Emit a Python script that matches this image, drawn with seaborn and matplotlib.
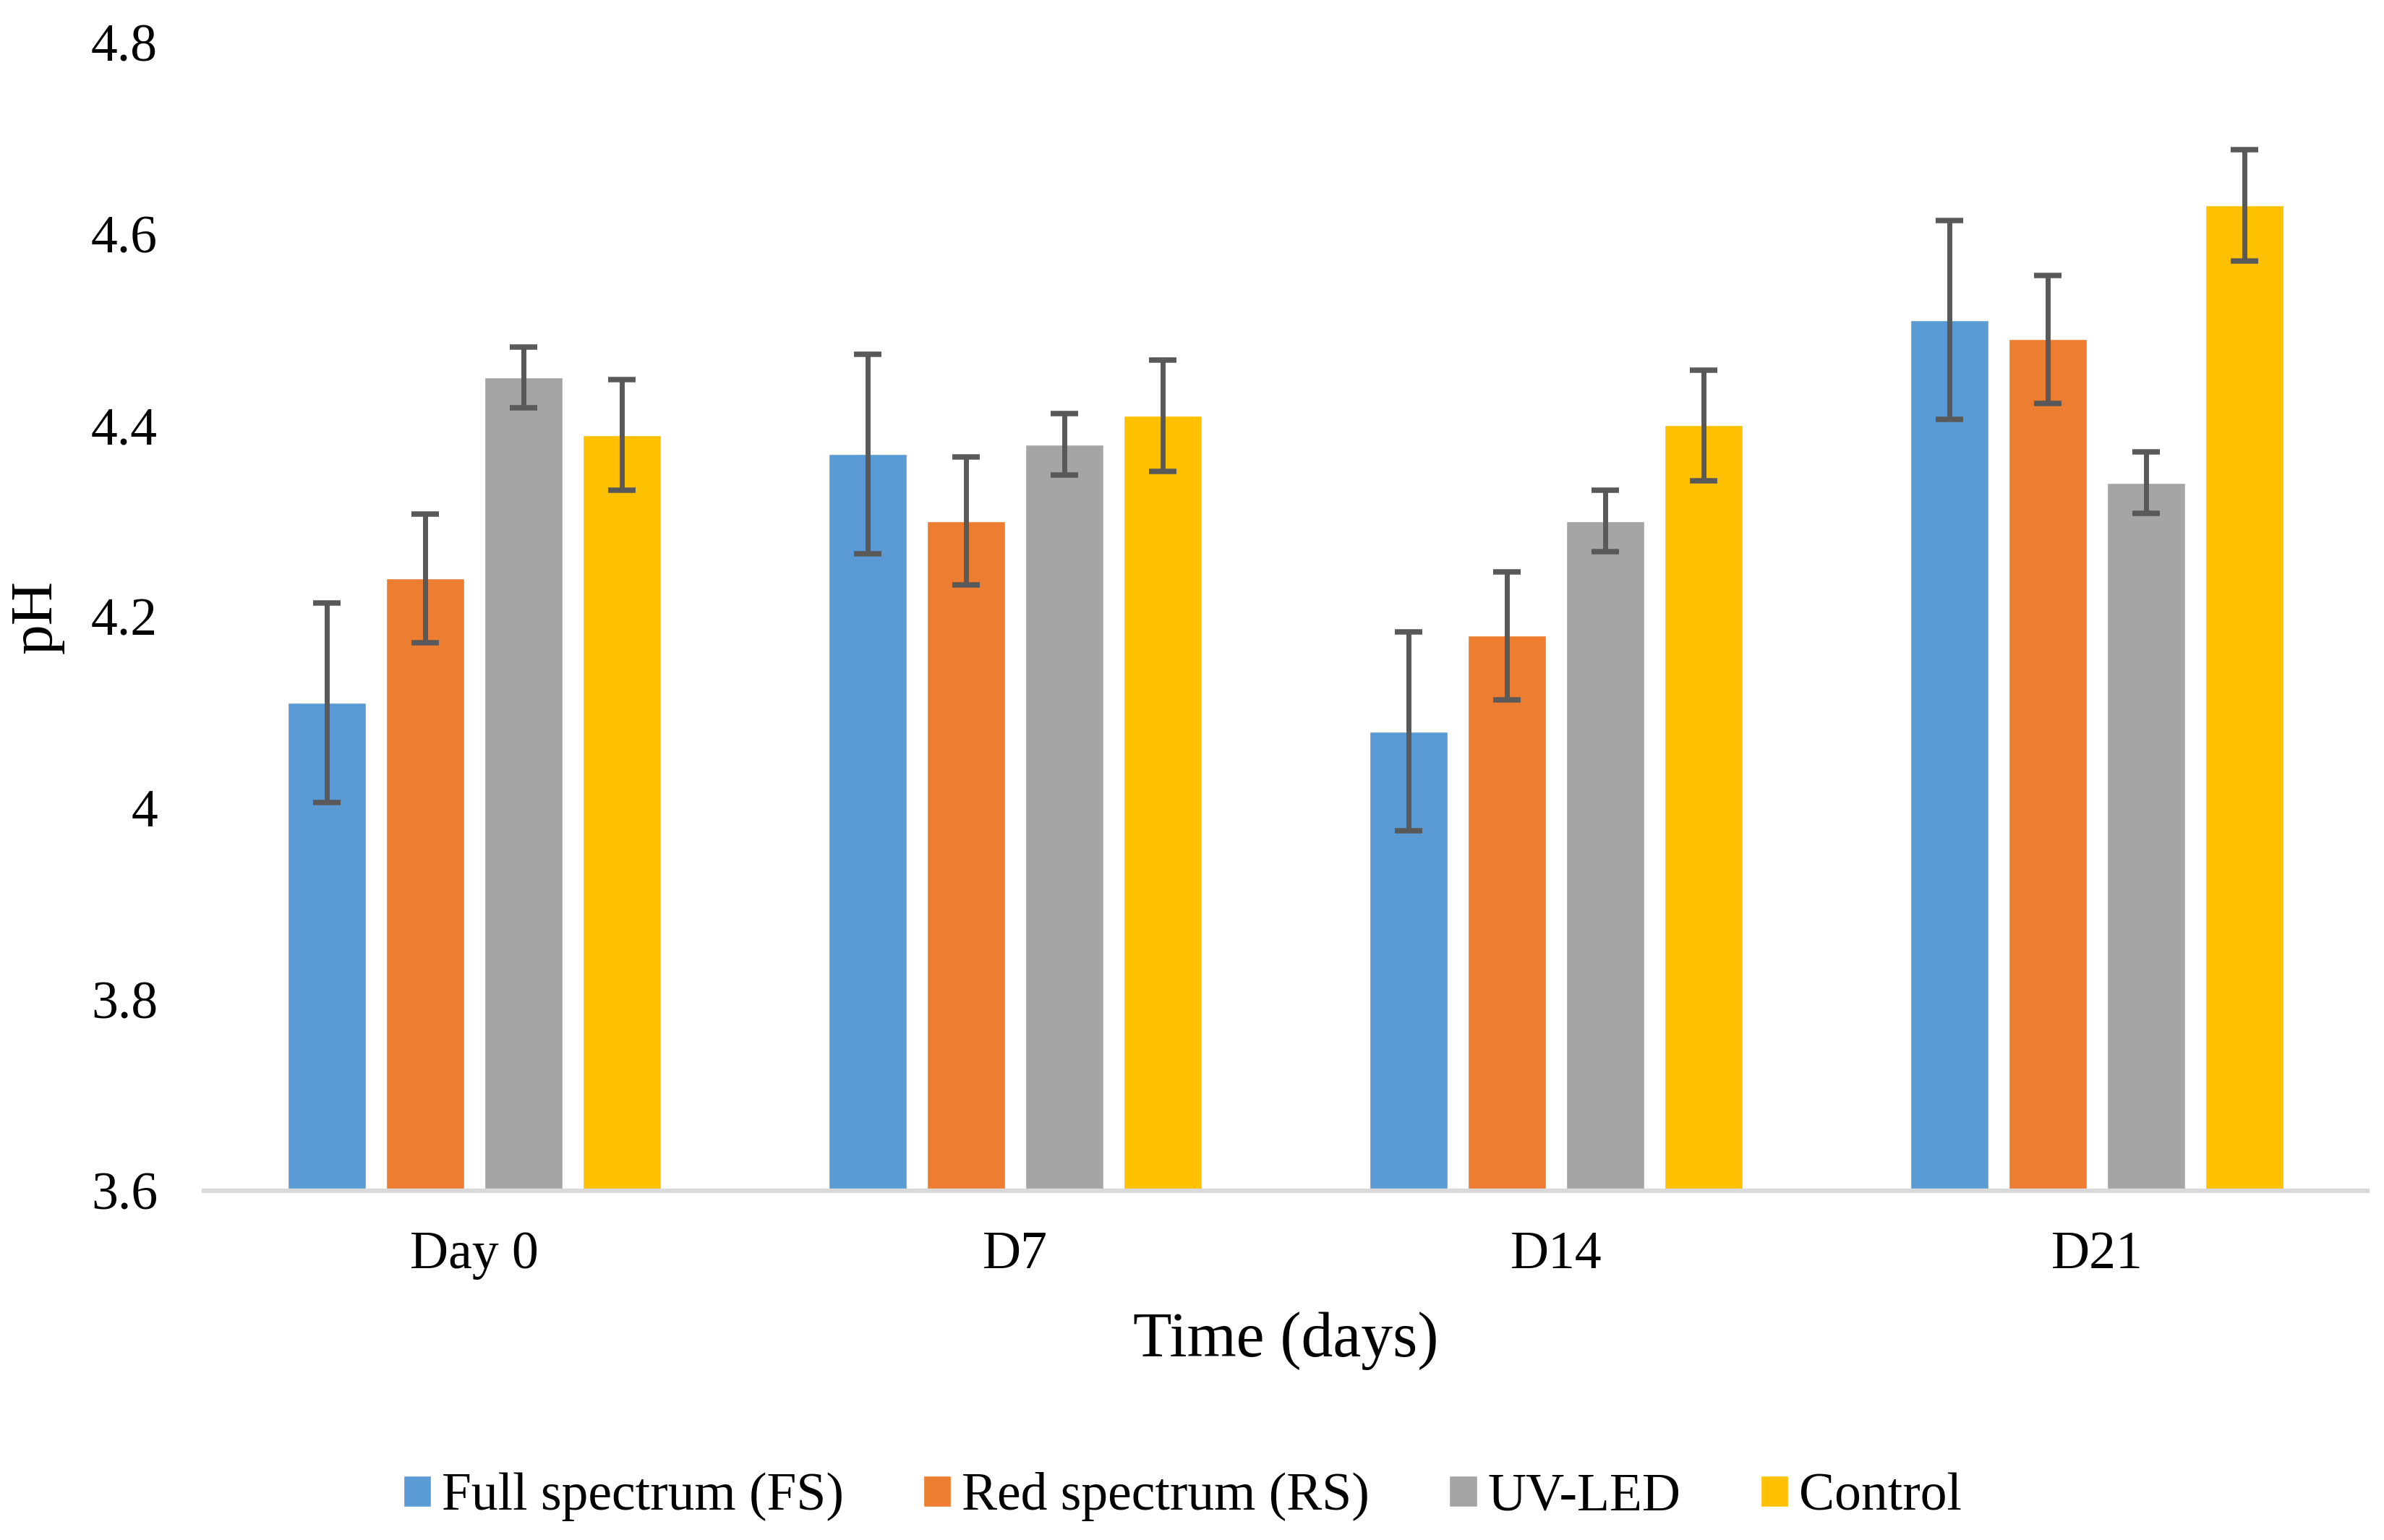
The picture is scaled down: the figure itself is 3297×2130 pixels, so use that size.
import matplotlib
matplotlib.use("Agg")
import matplotlib.pyplot as plt
import seaborn as sns
import pandas as pd
from matplotlib.ticker import FuncFormatter, MultipleLocator

days = ["Day 0", "D7", "D14", "D21"]
treatments = ["Full spectrum (FS)", "Red spectrum (RS)", "UV-LED", "Control"]
fs_vals = [4.11, 4.37, 4.08, 4.51]
rs_vals = [4.24, 4.30, 4.18, 4.49]
uv_vals = [4.45, 4.38, 4.30, 4.34]
ctrl_vals = [4.39, 4.41, 4.40, 4.63]
fs_err = [0.104, 0.104, 0.104, 0.104]
rs_err = [0.067, 0.067, 0.067, 0.067]
uv_err = [0.032, 0.032, 0.032, 0.032]
ctrl_err = [0.058, 0.058, 0.058, 0.058]
colors = ["#5B9BD5", "#ED7D31", "#A5A5A5", "#FFC000"]

values = [fs_vals, rs_vals, uv_vals, ctrl_vals]
errors = [fs_err, rs_err, uv_err, ctrl_err]
rows = []
for t, vals in zip(treatments, values):
    for d, v in zip(days, vals):
        rows.append({"Time": d, "Treatment": t, "pH": v})
df = pd.DataFrame(rows)

sns.set_theme(style="white")
plt.rcParams["font.family"] = ["Liberation Serif", "DejaVu Serif"]
plt.rcParams["text.color"] = "black"
plt.rcParams["axes.labelcolor"] = "black"

fig = plt.figure(figsize=(32.97, 21.30), dpi=100)
ax = fig.add_axes([0.0855, 0.2268, 0.9075, 0.7455])

sns.barplot(data=df, x="Time", y="pH", hue="Treatment", order=days,
            hue_order=treatments, palette=colors, width=0.727, gap=0.21,
            errorbar=None, saturation=1, ax=ax, legend=True)

for cont, errs in zip(ax.containers, errors):
    xs = [p.get_x() + p.get_width() / 2 for p in cont.patches]
    hs = [p.get_height() + p.get_y() for p in cont.patches]
    ax.errorbar(xs, hs, yerr=errs, fmt="none", ecolor="#595959",
                elinewidth=5.0, capsize=13.5, capthick=5.4, zorder=5)

ax.set_ylim(3.6, 4.8)
ax.set_xlim(-0.5, 3.5)
ax.yaxis.set_major_locator(MultipleLocator(0.2))
ax.yaxis.set_major_formatter(FuncFormatter(lambda v, p: f"{round(v, 1):g}"))
for s in ["top", "right", "left"]:
    ax.spines[s].set_visible(False)
ax.spines["bottom"].set_color("#D9D9D9")
ax.spines["bottom"].set_linewidth(4.6)
ax.tick_params(axis="both", length=0, labelsize=53, colors="black")
ax.tick_params(axis="y", pad=46)
ax.tick_params(axis="x", pad=40)
ax.set_xlabel("Time (days)", fontsize=63, labelpad=32, color="black")
ax.set_ylabel("pH", fontsize=60, labelpad=27, color="black")
ax.grid(False)

handles, labels = ax.get_legend_handles_labels()
ax.get_legend().remove()
fig.legend(handles, labels, loc="center", bbox_to_anchor=(0.496, 0.028),
           ncol=4, frameon=False, fontsize=53, handlelength=0.52,
           handleheight=0.53, handletextpad=0.2, columnspacing=1.5)

fig.savefig("out.png", dpi=100)
